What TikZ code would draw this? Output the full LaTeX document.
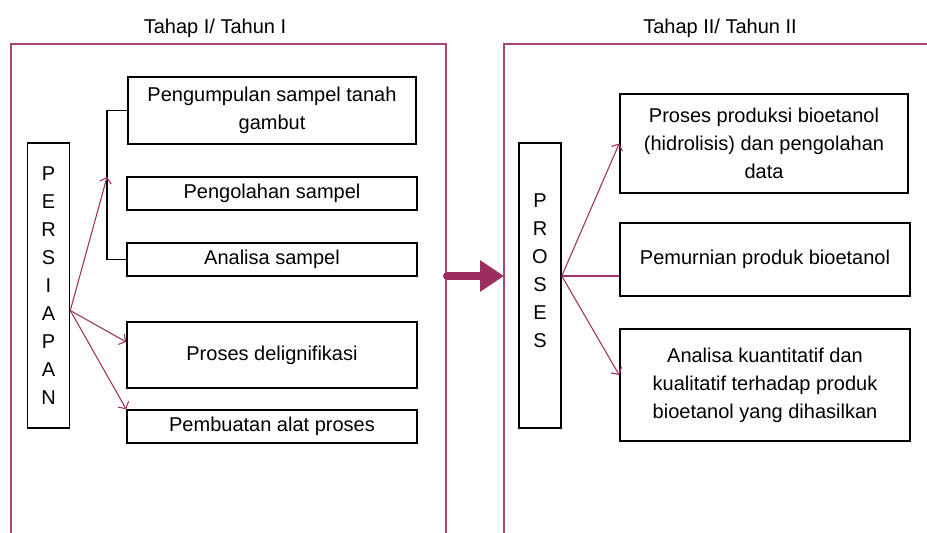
\documentclass[tikz,border=0pt]{standalone}
\usepackage{fontspec}
\setmainfont{Liberation Sans}
\usepackage{tikz}
\usetikzlibrary{calc,arrows.meta,positioning}
\definecolor{framepink}{RGB}{168,70,120}
\definecolor{arrowpink}{RGB}{160,52,102}
\definecolor{bigpink}{RGB}{155,45,95}
\tikzset{
  kotak/.style={draw=black,line width=1.6pt,align=center,inner sep=0pt,
    font=\fontsize{20}{28}\selectfont},
  tegak/.style={draw=black,line width=1.6pt,minimum width=42pt,minimum height=285pt,inner sep=0pt},
  huruf/.style={align=center,inner sep=0pt,font=\fontsize{20}{28}\selectfont},
  judul/.style={inner sep=0pt,font=\fontsize{20}{24}\selectfont},
  bingkai/.style={draw=framepink,line width=1.4pt},
  panah/.style={draw=arrowpink,line width=1.1pt,-{Straight Barb[length=5pt,width=12pt]}},
  garis/.style={draw=arrowpink,line width=1.1pt},
  kurung/.style={draw=black,line width=1.3pt}
}
\begin{document}
\begin{tikzpicture}[x=1pt,y=1pt]
\useasboundingbox (0,0) rectangle (927,-533);
% bingkai tahap
\draw[bingkai] (11,-533) -- (11,-44) -- (446,-44) -- (446,-533);
\draw[bingkai] (504,-533) -- (504,-44) -- (927,-44);
\node[judul] (judul1) at (215,-28) {Tahap I/ Tahun I};
\node[judul] (judul2) at (720,-28) {Tahap II/ Tahun II};
% tahap I
\node[tegak] (persiapan) at (48.5,-285.5) {};
\node[huruf] (persiapantxt) at (persiapan.center) {P\\E\\R\\S\\I\\A\\P\\A\\N};
\node[kotak,minimum width=288pt,minimum height=67pt] (kumpul) at (272,-110.5) {Pengumpulan sampel tanah\\gambut};
\node[kotak,minimum width=290pt,minimum height=33pt] (olah) at (272,-193.5) {Pengolahan sampel};
\node[kotak,minimum width=290pt,minimum height=33pt] (analisa) at (272,-259.5) {Analisa sampel};
\node[kotak,minimum width=290pt,minimum height=66pt] (delig) at (272,-355) {Proses delignifikasi};
\node[kotak,minimum width=290pt,minimum height=33pt] (alat) at (272,-426.5) {Pembuatan alat proses};
\coordinate (pa) at ([yshift=-25pt]persiapan.east);
\coordinate (kr) at (107,-177);
\draw[kurung] (kumpul.west) -| (kr |- analisa.west) -- (analisa.west);
\draw[panah] (pa) -- (kr);
\draw[panah] (pa) -- ([yshift=13pt]delig.west);
\draw[panah] (pa) -- (alat.north west);
% panah besar
\draw[bigpink,line width=8pt,line cap=round,-{Triangle[length=24pt,width=30pt]}] (447,-276) -- (504,-276);
% tahap II
\node[tegak] (proses) at (540,-285.5) {};
\node[huruf] (prosestxt) at ([yshift=15pt]proses.center) {P\\R\\O\\S\\E\\S};
\node[kotak,minimum width=288pt,minimum height=99pt] (produksi) at (764,-143.5) {Proses produksi bioetanol\\(hidrolisis) dan pengolahan\\data};
\node[kotak,minimum width=290pt,minimum height=73pt] (murni) at (765,-259.5) {Pemurnian produk bioetanol};
\node[kotak,minimum width=290pt,minimum height=112pt] (kuanti) at (765,-385) {Analisa kuantitatif dan\\kualitatif terhadap produk\\bioetanol yang dihasilkan};
\coordinate (pr) at ([yshift=9.5pt]proses.east);
\draw[panah] (pr) -- (produksi.west);
\draw[garis] (pr) -- (pr -| murni.west);
\draw[panah] (pr) -- ([yshift=10pt]kuanti.west);
\end{tikzpicture}
\end{document}
